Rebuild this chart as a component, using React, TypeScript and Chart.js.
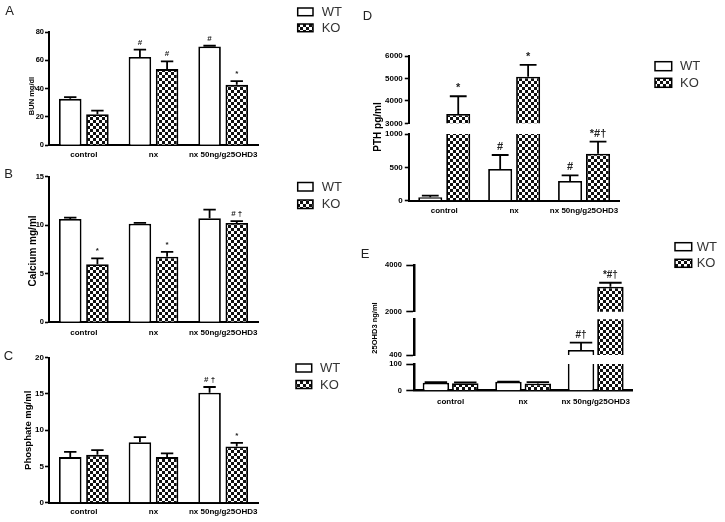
import React, { useEffect, useRef } from "react";
import { Chart, registerables } from "chart.js";
Chart.register(...registerables);

// ---------- data ----------
const CATEGORIES = ["control", "nx", "nx 50ng/g25OHD3"];
const SERIES = ["WT", "KO"];

// A: BUN
const A_TITLE = "BUN mg/dl";
const A_TICKS = [0, 20, 40, 60, 80];
const A_WT = [32.8, 62.3, 69.8];
const A_WT_ERR = [1.2, 5.2, 0.5];
const A_KO = [21.9, 53.8, 42.7];
const A_KO_ERR = [2.6, 5.4, 2.6];
const A_WT_MARK = ["", "#", "#"];
const A_KO_MARK = ["", "#", "*"];

// B: Calcium
const B_TITLE = "Calcium mg/ml";
const B_TICKS = [0, 5, 10, 15];
const B_WT = [10.64, 10.15, 10.71];
const B_WT_ERR = [0.15, 0.1, 0.9];
const B_KO = [5.97, 6.75, 10.23];
const B_KO_ERR = [0.62, 0.49, 0.2];
const B_WT_MARK = ["", "", ""];
const B_KO_MARK = ["*", "*", "# \u2020"];

// C: Phosphate
const C_TITLE = "Phosphate mg/ml";
const C_TICKS = [0, 5, 10, 15, 20];
const C_WT = [6.29, 8.35, 15.18];
const C_WT_ERR = [0.71, 0.69, 0.78];
const C_KO = [6.6, 6.29, 7.76];
const C_KO_ERR = [0.65, 0.51, 0.49];
const C_WT_MARK = ["", "", "# \u2020"];
const C_KO_MARK = ["", "", "*"];

// D: PTH (broken axis)
const D_TITLE = "PTH pg/ml";
const D_TICKS_LOW = [0, 500, 1000];
const D_TICKS_HIGH = [3000, 4000, 5000, 6000];
const D_WT = [51, 475, 295];
const D_WT_ERR = [24, 210, 85];
const D_KO = [3415, 5080, 705];
const D_KO_ERR = [790, 520, 180];
const D_WT_MARK = ["", "#", "#"];
const D_KO_MARK = ["*", "*", "*#\u2020"];

// E: 25OHD3 (broken axis, three segments)
const E_TITLE = "25OHD3 ng/ml";
const E_TICKS_LOW = [0, 100];
const E_TICKS_MID = [400];
const E_TICKS_HIGH = [2000, 4000];
const E_WT = [30, 33.7, 624];
const E_WT_ERR = [2, 0.5, 327];
const E_KO = [27.7, 27, 3070];
const E_KO_ERR = [3.3, 5, 170];
const E_WT_MARK = ["", "", "#\u2020"];
const E_KO_MARK = ["", "", "*#\u2020"];

// ---------- layout ----------
const W = 725;
const H = 522;
const WY = 30;
const HX = 20;
const FONT = "'Liberation Sans', Arial, Helvetica, sans-serif";

type Seg = {
  min: number; max: number; ticks: number[];
  top: number; bottom: number; showX: boolean; xPad?: number;
};

const PANELS: any[] = [
  {
    letter: "A", letterPos: [9.5, 11.5],
    title: A_TITLE, titlePos: [32, 96], titleSize: 7.5,
    wt: A_WT, wtErr: A_WT_ERR, ko: A_KO, koErr: A_KO_ERR, wtMark: A_WT_MARK, koMark: A_KO_MARK,
    axisX: 49, right: 258, tickSize: 7.5, xLabelSize: 8, tickLen: 4, tickPad: 1, axisW: 2,
    cat: 0.78, bar: 0.83, cap: 0.55, markSize: 8,
    legend: { x: 297.7, w: 15.3, h: 7.7, ys: [8, 24], tx: 321.7 },
    segments: [{ min: 0, max: 80, ticks: A_TICKS, top: 32, bottom: 145.3, showX: true, xPad: 5 }],
  },
  {
    letter: "B", letterPos: [8.5, 174],
    title: B_TITLE, titlePos: [33, 251], titleSize: 10,
    wt: B_WT, wtErr: B_WT_ERR, ko: B_KO, koErr: B_KO_ERR, wtMark: B_WT_MARK, koMark: B_KO_MARK,
    axisX: 49, right: 258, tickSize: 7.5, xLabelSize: 8, tickLen: 4, tickPad: 1, axisW: 2,
    cat: 0.78, bar: 0.83, cap: 0.55, markSize: 8,
    legend: { x: 297.7, w: 15.3, h: 8.5, ys: [182.5, 200], tx: 321.7 },
    segments: [{ min: 0, max: 15, ticks: B_TICKS, top: 176.7, bottom: 322.2, showX: true, xPad: 5.3 }],
  },
  {
    letter: "C", letterPos: [8.5, 356.5],
    title: C_TITLE, titlePos: [28.3, 430.3], titleSize: 9.5,
    wt: C_WT, wtErr: C_WT_ERR, ko: C_KO, koErr: C_KO_ERR, wtMark: C_WT_MARK, koMark: C_KO_MARK,
    axisX: 49, right: 258, tickSize: 8, xLabelSize: 8, tickLen: 4, tickPad: 1, axisW: 2,
    cat: 0.78, bar: 0.83, cap: 0.55, markSize: 8,
    legend: { x: 296, w: 15.7, h: 8, ys: [364, 380.5], tx: 320 },
    segments: [{ min: 0, max: 20, ticks: C_TICKS, top: 357.7, bottom: 502.7, showX: true, xPad: 4.2 }],
  },
  {
    letter: "D", letterPos: [367.5, 16],
    title: D_TITLE, titlePos: [378, 127], titleSize: 10,
    wt: D_WT, wtErr: D_WT_ERR, ko: D_KO, koErr: D_KO_ERR, wtMark: D_WT_MARK, koMark: D_KO_MARK,
    axisX: 409.3, right: 619, tickSize: 8, xLabelSize: 8, tickLen: 4.5, tickPad: 2, axisW: 2,
    cat: 0.8, bar: 0.86, cap: 0.7, markSize: 11,
    legend: { x: 655, w: 16.7, h: 9, ys: [61.7, 78.3], tx: 680 },
    segments: [
      { min: 0, max: 1000, ticks: D_TICKS_LOW, top: 134, bottom: 200.7, showX: true, xPad: 5.2 },
      { min: 3000, max: 6000, ticks: D_TICKS_HIGH, top: 56, bottom: 123.3, showX: false },
    ],
  },
  {
    letter: "E", letterPos: [365, 254.5],
    title: E_TITLE, titlePos: [375, 328], titleSize: 7.5,
    wt: E_WT, wtErr: E_WT_ERR, ko: E_KO, koErr: E_KO_ERR, wtMark: E_WT_MARK, koMark: E_KO_MARK,
    axisX: 414.3, right: 632, tickSize: 7.5, xLabelSize: 8, tickLen: 8, tickPad: 4.5, axisW: 2.5,
    cat: 0.81, bar: 0.9, cap: 0.85, markSize: 10,
    legend: { x: 675, w: 16.7, h: 8, ys: [242.7, 259.3], tx: 696.7 },
    segments: [
      { min: 0, max: 100, ticks: E_TICKS_LOW, top: 364, bottom: 390.7, showX: true, xPad: 6.2 },
      { min: 400, max: 2000, ticks: E_TICKS_MID, top: 319.3, bottom: 355, showX: false },
      { min: 2000, max: 4000, ticks: E_TICKS_HIGH, top: 265, bottom: 311.7, showX: false },
    ],
  },
];

function makePattern(): CanvasPattern | string {
  const t = document.createElement("canvas");
  t.width = 6;
  t.height = 6;
  const c = t.getContext("2d");
  if (!c) return "#555";
  c.fillStyle = "#111";
  c.fillRect(0, 0, 6, 6);
  c.fillStyle = "#fff";
  c.fillRect(0, 0, 3, 3);
  c.fillRect(3, 3, 3, 3);
  return c.createPattern(t, "repeat") || "#555";
}

function makeChart(canvas: HTMLCanvasElement, p: any, seg: Seg, isMain: boolean, pattern: any) {
  const padding = {
    left: p.axisX - WY,
    right: W - p.right,
    top: seg.top,
    bottom: seg.showX ? H - seg.bottom - HX : H - seg.bottom,
  };
  const errs = [p.wtErr, p.koErr];
  const marks = [p.wtMark, p.koMark];

  const barsPlugin = {
    id: "errbars",
    afterDatasetsDraw(chart: any) {
      const ctx = chart.ctx;
      const area = chart.chartArea;
      const ys = chart.scales.y;
      ctx.save();
      ctx.beginPath();
      ctx.rect(area.left - 30, area.top - 1.5, area.right - area.left + 60, area.bottom - area.top + 1.5);
      ctx.clip();
      ctx.strokeStyle = "#000";
      ctx.lineWidth = 1.8;
      chart.data.datasets.forEach((ds: any, di: number) => {
        const meta = chart.getDatasetMeta(di);
        meta.data.forEach((el: any, i: number) => {
          const v = ds.data[i];
          const e = errs[di][i];
          const y0 = ys.getPixelForValue(v);
          const y1 = ys.getPixelForValue(v + e);
          const half = (el.width * p.cap) / 2;
          ctx.beginPath();
          ctx.moveTo(el.x, y0);
          ctx.lineTo(el.x, y1);
          ctx.moveTo(el.x - half, y1);
          ctx.lineTo(el.x + half, y1);
          ctx.stroke();
        });
      });
      ctx.restore();

      ctx.save();
      ctx.fillStyle = "#222";
      ctx.textAlign = "center";
      ctx.textBaseline = "alphabetic";
      ctx.font = `bold ${p.markSize}px ${FONT}`;
      chart.data.datasets.forEach((ds: any, di: number) => {
        const meta = chart.getDatasetMeta(di);
        meta.data.forEach((el: any, i: number) => {
          const m = marks[di][i];
          if (!m) return;
          const topVal = ds.data[i] + errs[di][i];
          if (topVal < ys.min || topVal > ys.max) return;
          const y1 = ys.getPixelForValue(topVal);
          ctx.fillText(m, el.x, y1 - 5);
        });
      });
      ctx.restore();
    },
    afterDraw(chart: any) {
      if (!isMain) return;
      const ctx = chart.ctx;
      ctx.save();
      ctx.fillStyle = "#222";
      ctx.font = `13px ${FONT}`;
      ctx.textAlign = "center";
      ctx.textBaseline = "middle";
      ctx.fillText(p.letter, p.letterPos[0], p.letterPos[1]);
      ctx.save();
      ctx.translate(p.titlePos[0], p.titlePos[1]);
      ctx.rotate(-Math.PI / 2);
      ctx.fillStyle = "#000";
      ctx.font = `bold ${p.titleSize}px ${FONT}`;
      ctx.fillText(p.title, 0, 0);
      ctx.restore();
      const L = p.legend;
      chart.data.datasets.forEach((ds: any, di: number) => {
        const y = L.ys[di];
        ctx.fillStyle = ds.backgroundColor;
        ctx.fillRect(L.x, y, L.w, L.h);
        ctx.strokeStyle = "#000";
        ctx.lineWidth = 1.5;
        ctx.strokeRect(L.x, y, L.w, L.h);
        ctx.fillStyle = "#333";
        ctx.font = `13px ${FONT}`;
        ctx.textAlign = "left";
        ctx.textBaseline = "middle";
        ctx.fillText(ds.label, L.tx, y + L.h / 2 + 0.5);
      });
      ctx.restore();
    },
  };

  const clip = { left: 40, right: 40, top: 0, bottom: 0 };

  return new Chart(canvas, {
    type: "bar",
    data: {
      labels: CATEGORIES,
      datasets: [
        {
          label: SERIES[0], data: p.wt, backgroundColor: "#fff", borderColor: "#000",
          borderWidth: 1.8, categoryPercentage: p.cat, barPercentage: p.bar, clip,
        },
        {
          label: SERIES[1], data: p.ko, backgroundColor: pattern, borderColor: "#000",
          borderWidth: 1.8, categoryPercentage: p.cat, barPercentage: p.bar, clip,
        },
      ],
    } as any,
    options: {
      responsive: false,
      animation: false,
      devicePixelRatio: 1,
      events: [],
      layout: { padding, autoPadding: false },
      plugins: {
        legend: { display: false },
        title: { display: false },
        tooltip: { enabled: false },
      },
      scales: {
        x: {
          type: "category",
          offset: true,
          display: seg.showX,
          grid: { display: false, drawTicks: false },
          border: { display: true, color: "#000", width: p.axisW },
          ticks: {
            color: "#000",
            font: { family: FONT, size: p.xLabelSize, weight: "bold" },
            padding: seg.xPad ?? 5,
            maxRotation: 0,
            minRotation: 0,
            autoSkip: false,
          },
          afterFit: (s: any) => { s.height = seg.showX ? HX : 0; },
        },
        y: {
          type: "linear",
          min: seg.min,
          max: seg.max,
          grid: {
            display: true, drawOnChartArea: false, drawTicks: true,
            tickLength: p.tickLen, tickWidth: 1.6, tickColor: "#000",
          },
          border: { display: true, color: "#000", width: p.axisW },
          ticks: {
            color: "#000",
            font: { family: FONT, size: p.tickSize, weight: "bold" },
            padding: p.tickPad,
            callback: (v: any) => String(v),
          },
          afterBuildTicks: (s: any) => { s.ticks = seg.ticks.map((v) => ({ value: v })); },
          afterFit: (s: any) => { s.width = WY; },
        },
      },
    } as any,
    plugins: [barsPlugin],
  });
}

const SEG_COUNT = PANELS.reduce((n, p) => n + p.segments.length, 0);

export default function App() {
  const refs = useRef<(HTMLCanvasElement | null)[]>([]);
  useEffect(() => {
    const pattern = makePattern();
    const charts: Chart[] = [];
    let k = 0;
    PANELS.forEach((p) => {
      p.segments.forEach((seg: Seg, si: number) => {
        const c = refs.current[k++];
        if (c) charts.push(makeChart(c, p, seg, si === 0, pattern));
      });
    });
    return () => charts.forEach((ch) => ch.destroy());
  }, []);
  return (
    <div style={{ position: "absolute", left: 0, top: 0, width: W, height: H, background: "#fff", overflow: "hidden" }}>
      {Array.from({ length: SEG_COUNT }).map((_, i) => (
        <canvas
          key={i}
          ref={(el) => { refs.current[i] = el; }}
          width={W}
          height={H}
          style={{ position: "absolute", left: 0, top: 0, width: W, height: H }}
        />
      ))}
    </div>
  );
}
